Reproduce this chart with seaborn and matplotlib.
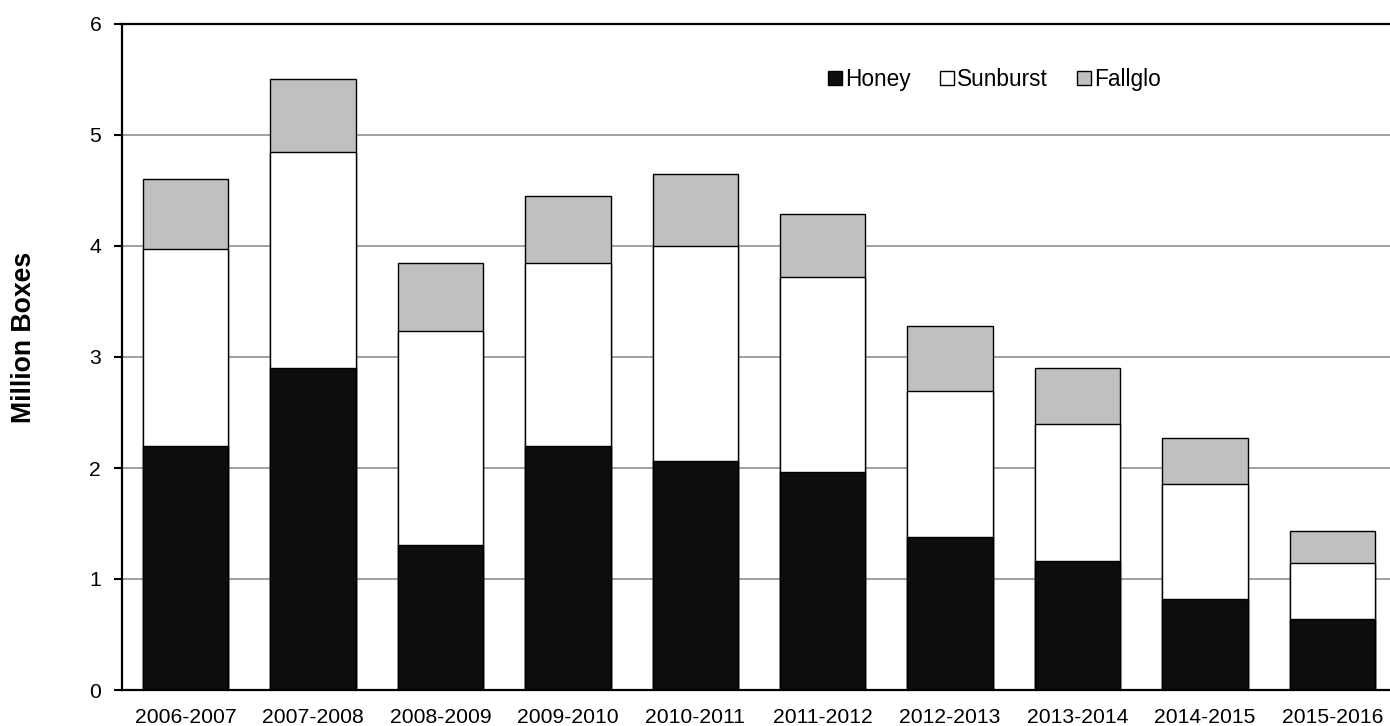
import numpy as np
import pandas as pd
import seaborn as sns
import matplotlib.pyplot as plt
from matplotlib.patches import Patch

SEASONS = ['2006-2007', '2007-2008', '2008-2009', '2009-2010', '2010-2011',
           '2011-2012', '2012-2013', '2013-2014', '2014-2015', '2015-2016']
HONEY = [2.20, 2.90, 1.31, 2.20, 2.06, 1.96, 1.38, 1.16, 0.82, 0.64]
SUNBURST = [1.77, 1.95, 1.92, 1.65, 1.94, 1.76, 1.31, 1.24, 1.04, 0.50]
FALLGLO = [0.63, 0.65, 0.62, 0.60, 0.65, 0.57, 0.59, 0.50, 0.41, 0.29]

COLORS = {'Honey': '#0d0d0d', 'Sunburst': '#ffffff', 'Fallglo': '#c0c0c0'}

sns.set_theme(style='white')
plt.rcParams['font.family'] = ['Liberation Sans', 'DejaVu Sans']
plt.rcParams['text.color'] = 'black'
plt.rcParams['axes.labelcolor'] = 'black'
plt.rcParams['xtick.color'] = 'black'
plt.rcParams['ytick.color'] = 'black'

df = pd.DataFrame({'season': SEASONS, 'honey': HONEY,
                   'sunburst': SUNBURST, 'fallglo': FALLGLO})
# cumulative heights so the bars can be layered back to front
df['c_honey'] = df['honey']
df['c_sunburst'] = df['c_honey'] + df['sunburst']
df['c_fallglo'] = df['c_sunburst'] + df['fallglo']

fig = plt.figure(figsize=(13.9, 7.26), dpi=100)
ax = fig.add_axes([122 / 1390, 36 / 726, 1274 / 1390, 666 / 726])

for col, name in [('c_fallglo', 'Fallglo'), ('c_sunburst', 'Sunburst'), ('c_honey', 'Honey')]:
    sns.barplot(data=df, x='season', y=col, color=COLORS[name], saturation=1,
                edgecolor='black', linewidth=1, width=0.67, errorbar=None, ax=ax)

ax.set_ylim(0, 6)
ax.set_xlim(-0.5, len(SEASONS) - 0.5)
ax.set_yticks(range(0, 7))
ax.set_axisbelow(True)
ax.yaxis.grid(True, color='#999999', linewidth=1.3)
ax.xaxis.grid(False)

ax.set_xticks(np.arange(-0.5, len(SEASONS), 1.0), minor=True)
ax.tick_params(axis='x', which='major', length=0, pad=13, labelsize=15.2, labelcolor='black')
ax.tick_params(axis='x', which='minor', length=6, width=1.5, color='black', direction='out')
ax.tick_params(axis='y', which='major', length=6, width=1.5, color='black',
               direction='out', pad=9, labelsize=15.2, labelcolor='black', left=True)

for side in ['top', 'left', 'bottom']:
    ax.spines[side].set_visible(True)
    ax.spines[side].set_color('black')
    ax.spines[side].set_linewidth(1.6)
ax.spines['right'].set_visible(False)

ax.set_xlabel('')
ax.set_ylabel('Million Boxes', fontsize=19.2, fontweight='bold', color='black')
ax.yaxis.set_label_coords(-0.067, 0.53)

handles = [Patch(facecolor=COLORS[n], edgecolor='black', linewidth=1, label=n)
           for n in ['Honey', 'Sunburst', 'Fallglo']]
ax.legend(handles=handles, ncol=3, frameon=False, fontsize=16.3,
          loc='center', bbox_to_anchor=(0.685, 0.917),
          handlelength=0.6, handleheight=0.6, handletextpad=0.15,
          columnspacing=1.3, labelcolor='black')

fig.savefig('out.png', dpi=100)
